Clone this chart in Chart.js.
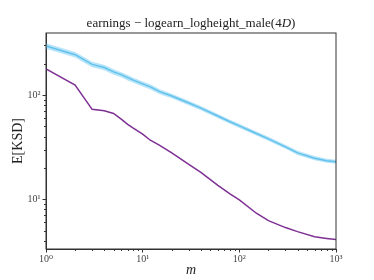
<!DOCTYPE html>
<html>
<head>
<meta charset="utf-8">
<script src="https://cdn.jsdelivr.net/npm/chart.js@4"></script>
<style>
  html, body { margin: 0; padding: 0; background: #fff; }
  #wrap { width: 374px; height: 280px; }
</style>
</head>
<body>
<div id="wrap"><canvas id="ch" width="374" height="280"></canvas></div>
<script>
// ── datos ────────────────────────────────────────────────────────────────────
const M        = [1, 2, 3, 4, 5, 6, 7, 8, 10, 12, 15, 20, 30, 40, 60, 80, 100, 150, 200, 300, 400, 600, 800, 1000];
const BLUE     = [296, 244, 197, 184, 167, 157, 147, 139, 128, 120, 108, 98, 84, 75, 63, 55.5, 50.6, 42.8, 38, 31.9, 27.9, 24.8, 23.4, 22.9];
const BLUE_LO  = [278, 229, 185, 173, 157, 148, 138, 131, 121, 113, 102, 93, 80, 71.5, 60, 53, 48.3, 40.9, 36.3, 30.5, 26.7, 23.7, 22.4, 21.9];
const BLUE_HI  = [315, 259, 209, 195, 177, 166, 156, 147, 135, 127, 114, 103, 88, 78.5, 66, 58, 53, 44.8, 39.8, 33.4, 29.2, 26, 24.5, 24];
const PURPLE   = [178, 125, 73, 70.6, 66.7, 58.7, 52.4, 48.2, 42.2, 36.9, 33, 27.9, 21.6, 18.1, 13.6, 11.3, 9.87, 7.36, 6.25, 5.36, 4.9, 4.37, 4.22, 4.12];

const X_MAJOR  = [1, 10, 100, 1000];
const X_MINOR  = [2, 3, 4, 5, 6, 7, 8, 9, 20, 30, 40, 50, 60, 70, 80, 90, 200, 300, 400, 500, 600, 700, 800, 900];
const Y_MAJOR  = [10, 100];
const Y_MINOR  = [4, 5, 6, 7, 8, 9, 20, 30, 40, 50, 60, 70, 80, 90, 200, 300];
const SUP      = { 0: '⁰', 1: '¹', 2: '²', 3: '³' };

const TITLE    = ['earnings − logearn_logheight_male(4', 'D', ')'];
const X_LABEL  = 'm';
const Y_LABEL  = 'E[KSD]';

const C_BLUE   = '#2aa9e2';
const C_BAND   = 'rgba(135, 210, 243, 0.6)';
const C_PURPLE = '#7e2f94';
const C_AXIS   = '#333';
const SERIF    = '"Liberation Serif", "DejaVu Serif", serif';

const pts = ys => M.map((m, i) => ({ x: m, y: ys[i] }));
const powLabel = v => '10' + SUP[Math.round(Math.log10(v))];

// ── extras: marco, ticks menores, títulos ───────────────────────────────────
const extras = {
  id: 'extras',
  afterDraw(chart) {
    const { ctx, chartArea: a, scales: { x, y } } = chart;
    ctx.save();
    ctx.strokeStyle = C_AXIS;
    ctx.lineWidth = 1;
    ctx.strokeRect(a.left, a.top, a.right - a.left, a.bottom - a.top);

    ctx.beginPath();
    X_MINOR.forEach(v => {
      const px = Math.round(x.getPixelForValue(v)) + 0.5;
      ctx.moveTo(px, a.bottom); ctx.lineTo(px, a.bottom + 2);
    });
    Y_MINOR.forEach(v => {
      const py = Math.round(y.getPixelForValue(v)) + 0.5;
      ctx.moveTo(a.left, py); ctx.lineTo(a.left - 2, py);
    });
    ctx.stroke();

    ctx.fillStyle = '#222';
    ctx.textBaseline = 'middle';

    // título con la D en cursiva
    const fN = '13px ' + SERIF, fI = 'italic 13px ' + SERIF;
    ctx.font = fN; const w0 = ctx.measureText(TITLE[0]).width, w2 = ctx.measureText(TITLE[2]).width;
    ctx.font = fI; const w1 = ctx.measureText(TITLE[1]).width;
    let tx = (a.left + a.right) / 2 - (w0 + w1 + w2) / 2;
    ctx.textAlign = 'left';
    ctx.font = fN; ctx.fillText(TITLE[0], tx, 24); tx += w0;
    ctx.font = fI; ctx.fillText(TITLE[1], tx, 24); tx += w1;
    ctx.font = fN; ctx.fillText(TITLE[2], tx, 24);

    ctx.textAlign = 'center';
    ctx.font = 'italic 14px ' + SERIF;
    ctx.fillText(X_LABEL, (a.left + a.right) / 2, 270);

    ctx.translate(18, (a.top + a.bottom) / 2);
    ctx.rotate(-Math.PI / 2);
    ctx.font = '14px ' + SERIF;
    ctx.fillText(Y_LABEL, 0, 0);
    ctx.restore();
  }
};

new Chart(document.getElementById('ch'), {
  type: 'line',
  data: {
    datasets: [
      { data: pts(BLUE_HI), borderWidth: 0, pointRadius: 0, backgroundColor: C_BAND, fill: '+1' },
      { data: pts(BLUE_LO), borderWidth: 0, pointRadius: 0, fill: false },
      { data: pts(BLUE), borderColor: C_BLUE, borderWidth: 1.5, pointRadius: 0, fill: false },
      { data: pts(PURPLE), borderColor: C_PURPLE, borderWidth: 1.5, pointRadius: 0, fill: false },
    ],
  },
  options: {
    responsive: false,
    animation: false,
    devicePixelRatio: 1,
    layout: { padding: { top: 33, right: 38, left: 0, bottom: 0 } },
    plugins: { legend: { display: false }, tooltip: { enabled: false } },
    elements: { line: { tension: 0 } },
    scales: {
      x: {
        type: 'logarithmic', min: 1, max: 1000,
        afterBuildTicks: s => { s.ticks = X_MAJOR.map(v => ({ value: v })); },
        afterFit: s => { s.height = 31; },
        ticks: { autoSkip: false, maxRotation: 0, padding: 1, color: '#444',
                 font: { family: SERIF, size: 10 }, callback: v => powLabel(v) },
        grid: { drawOnChartArea: false, tickLength: 3.5, tickColor: C_AXIS },
        border: { color: C_AXIS, width: 1 },
      },
      y: {
        type: 'logarithmic', min: 3.34, max: 394,
        afterBuildTicks: s => { s.ticks = Y_MAJOR.map(v => ({ value: v })); },
        afterFit: s => { s.width = 46; },
        ticks: { autoSkip: false, padding: 2, color: '#444',
                 font: { family: SERIF, size: 10 }, callback: v => powLabel(v) },
        grid: { drawOnChartArea: false, tickLength: 3.5, tickColor: C_AXIS },
        border: { color: C_AXIS, width: 1 },
      },
    },
  },
  plugins: [extras],
});
</script>
</body>
</html>
